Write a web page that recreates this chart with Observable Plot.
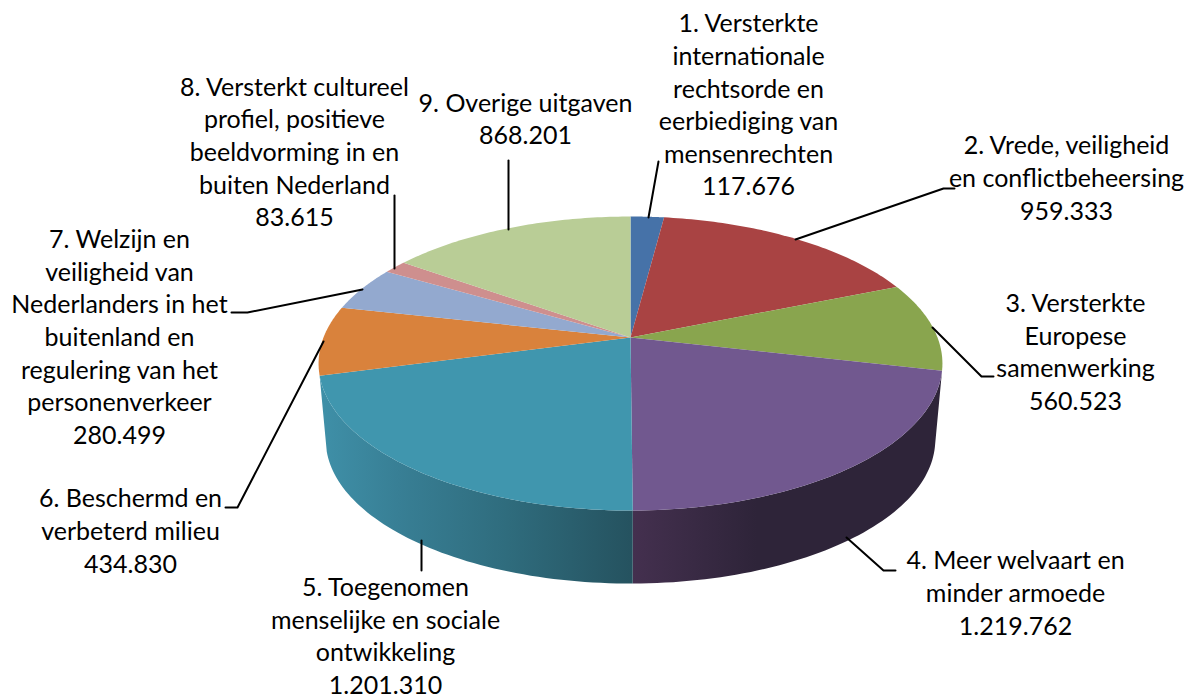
<!DOCTYPE html>
<html>
<head>
<meta charset="utf-8">
<script src="https://cdn.jsdelivr.net/npm/d3@7"></script>
<script src="https://cdn.jsdelivr.net/npm/@observablehq/plot@0.6"></script>
<style>html,body{margin:0;padding:0;background:#fff}svg{display:block}</style>
</head>
<body>
<div id="chart"></div>
<script>
const categories = [
  "1. Versterkte\ninternationale\nrechtsorde en\neerbiediging van\nmensenrechten",
  "2. Vrede, veiligheid\nen conflictbeheersing",
  "3. Versterkte\nEuropese\nsamenwerking",
  "4. Meer welvaart en\nminder armoede",
  "5. Toegenomen\nmenselijke en sociale\nontwikkeling",
  "6. Beschermd en\nverbeterd milieu",
  "7. Welzijn en\nveiligheid van\nNederlanders in het\nbuitenland en\nregulering van het\npersonenverkeer",
  "8. Versterkt cultureel\nprofiel, positieve\nbeeldvorming in en\nbuiten Nederland",
  "9. Overige uitgaven"
];
const values = [117676, 959333, 560523, 1219762, 1201310, 434830, 280499, 83615, 868201];
const topColors = ["#4672a8", "#a94343", "#89a54e", "#71588f", "#4096ae", "#d9823c", "#93a9cf", "#ce8f8e", "#b9cd96"];
// centre of each label block
const labelX = [748, 1066, 1075, 1015, 385, 130, 119, 294, 525];
const labelY = [103, 176, 350, 591, 634, 529, 335, 150, 117];
// leader lines [x, y] per label
const leaders = [
  [[648,217],[658,161]],
  [[795,239],[943,188],[954,188]],
  [[932,327],[981,376],[993,376]],
  [[846,537],[883,570],[895,570]],
  [[421,540],[421,570]],
  [[323,341],[237,507],[225,507]],
  [[362,289],[247,312],[231,312]],
  [[394,268],[394,195]],
  [[508,229],[508,160]]
];

// projection of the tilted disc
const cx = 630, cy = 337, sx = 307, sy = 142.4, k = 0.177, shrink = 0.977, dropY = 77;
const total = d3.sum(values);
const cum = d3.cumsum(values);
const angle = i => (i <= 0 ? 0 : cum[i - 1]) / total * 2 * Math.PI;
const project = (a, bottom) => {
  const d = 1 + k * Math.cos(a);
  const px = sx * Math.sin(a) / d, py = -sy * Math.cos(a) / d;
  return bottom ? {x: cx + shrink * px, y: cy + dropY + shrink * py} : {x: cx + px, y: cy + py};
};
const arc = (a0, a1, bottom) => d3.range(0, 61).map(j => project(a0 + (a1 - a0) * j / 60, bottom));
const wedge = i => [{x: cx, y: cy}, ...arc(angle(i), angle(i + 1), false)];
const wall = (i) => [...arc(angle(i), angle(i + 1), false), ...arc(angle(i), angle(i + 1), true).reverse()];

const nl = d3.formatLocale({decimal: ",", thousands: ".", grouping: [3], currency: ["", ""]});
const fmt = nl.format(",d");
const labels = categories.map((c, i) => ({text: c + "\n" + fmt(values[i]), x: labelX[i], y: labelY[i]}));

function defs() {
  const d = d3.create("svg:defs");
  const grad = (id, stops) => {
    const g = d.append("linearGradient").attr("id", id).attr("x1", 0).attr("x2", 1).attr("y1", 0).attr("y2", 0);
    stops.forEach(([o, c]) => g.append("stop").attr("offset", o).attr("stop-color", c));
  };
  grad("wallTeal", [[0, "#3f90a8"], [0.25, "#387f95"], [0.6, "#2f6c7d"], [1, "#25525f"]]);
  grad("wallPurple", [[0, "#44304f"], [0.4, "#2e2439"], [1, "#2e2439"]]);
  return d.node();
}

const fs = 25;
const chart = Plot.plot({
  width: 1192, height: 694,
  margin: 0,
  x: {domain: [0, 1192], range: [0, 1192], axis: null},
  y: {domain: [0, 694], range: [0, 694], axis: null},
  style: {background: "#fff"},
  marks: [
    defs,
    Plot.line(wall(3), {x: "x", y: "y", fill: "url(#wallPurple)", stroke: "none"}),
    Plot.line(wall(4), {x: "x", y: "y", fill: "url(#wallTeal)", stroke: "none"}),
    ...values.map((v, i) => Plot.line(wedge(i), {x: "x", y: "y", fill: topColors[i], stroke: "none"})),
    ...leaders.map(l => Plot.line(l, {x: d => d[0], y: d => d[1], stroke: "#000", strokeWidth: 2, strokeLinejoin: "round"})),
    Plot.text(labels, {x: "x", y: "y", text: "text", fontSize: fs, fontFamily: "Lato", fill: "#000", textAnchor: "middle", lineAnchor: "middle", lineHeight: 32.6 / fs})
  ]
});
document.getElementById("chart").appendChild(chart);
</script>
</body>
</html>
